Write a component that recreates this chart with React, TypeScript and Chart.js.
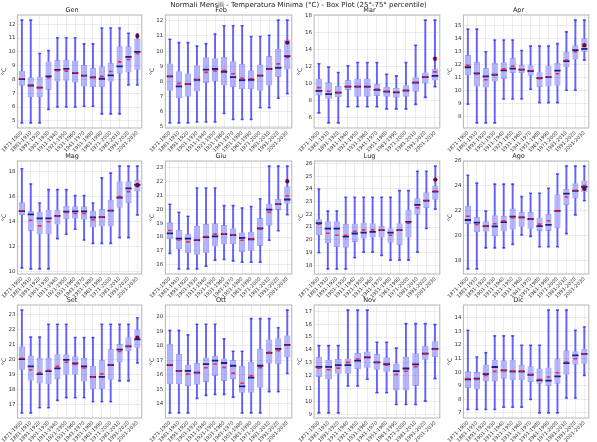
import React, { useEffect, useRef } from "react";
import { Chart, registerables } from "chart.js";

Chart.register(...registerables);

// ---------- categories ----------
const PERIODS = [
  "1871-1900", "1881-1910", "1891-1920", "1901-1930", "1911-1940", "1921-1950", "1931-1960",
  "1941-1970", "1951-1980", "1961-1990", "1971-2000", "1981-2010", "1991-2020", "2001-2030",
];
const PERIODS_13 = PERIODS.filter((p) => p !== "1901-1930");

const SUPTITLE = "Normali Mensili - Temperatura Minima (°C) - Box Plot (25°-75° percentile)";
const Y_TITLE = "°C";

// ---------- data (min, q1, median, q3, max, mean, marker on last period) ----------
const GEN_MIN = [4.85, 4.85, 4.85, 5.83, 6.0, 6.0, 6.0, 6.05, 6.05, 5.5, 5.5, 5.5, 7.6, 7.6];
const GEN_Q1 = [7.55, 6.7, 6.7, 7.24, 7.85, 7.9, 7.78, 7.49, 7.44, 7.44, 7.85, 8.42, 8.51, 8.7];
const GEN_MED = [8.02, 7.56, 7.4, 8.22, 8.7, 8.76, 8.46, 8.27, 8.15, 8.05, 8.3, 8.95, 9.63, 10.0];
const GEN_Q3 = [8.63, 8.15, 8.2, 9.3, 9.4, 9.44, 9.37, 9.05, 8.83, 8.95, 9.2, 10.4, 10.4, 10.95];
const GEN_MAX = [12.3, 12.3, 9.88, 10.1, 11.02, 11.02, 11.02, 10.58, 10.58, 11.73, 11.73, 11.73, 11.35, 11.3];
const GEN_MEAN = [8.05, 7.55, 7.42, 8.12, 8.63, 8.6, 8.48, 8.27, 8.15, 8.22, 8.58, 9.27, 9.44, 9.88];
const GEN_MARK = 11.15;

const FEB_MIN = [5.27, 5.27, 5.27, 5.33, 5.33, 5.33, 5.89, 5.49, 5.49, 5.49, 6.27, 6.27, 6.89, 7.2];
const FEB_Q1 = [7.38, 6.89, 7.0, 7.33, 7.89, 8.0, 7.73, 7.62, 7.49, 7.49, 7.38, 7.73, 8.29, 8.78];
const FEB_MED = [8.33, 7.67, 7.82, 8.11, 8.78, 8.82, 8.64, 8.29, 8.09, 8.11, 8.38, 8.82, 8.89, 9.67];
const FEB_Q3 = [9.18, 8.67, 8.53, 9.07, 9.6, 9.53, 9.62, 9.33, 9.16, 8.73, 9.11, 9.67, 10.16, 10.76];
const FEB_MAX = [10.78, 10.56, 10.56, 10.33, 10.49, 11.13, 11.67, 11.67, 11.67, 10.96, 10.96, 11.04, 12.04, 12.04];
const FEB_MEAN = [8.33, 7.87, 7.82, 8.11, 8.6, 8.69, 8.73, 8.51, 8.22, 8.18, 8.38, 8.8, 9.16, 9.58];
const FEB_MARK = 10.56;

const MAR_MIN = [6.55, 5.37, 5.37, 7.26, 7.26, 7.26, 7.26, 7.02, 7.02, 7.02, 7.54, 8.37, 9.63];
const MAR_Q1 = [8.6, 8.21, 8.37, 9.24, 8.45, 8.45, 8.53, 8.45, 8.33, 8.45, 9.04, 10.03, 10.34];
const MAR_MED = [9.12, 8.76, 8.92, 9.63, 9.63, 9.63, 9.24, 9.04, 8.96, 9.16, 10.1, 10.74, 10.89];
const MAR_Q3 = [10.58, 10.14, 9.71, 10.42, 10.58, 10.58, 9.95, 9.63, 9.51, 9.79, 10.74, 11.29, 11.72];
const MAR_MAX = [12.32, 11.92, 11.29, 12.08, 12.47, 12.47, 12.47, 11.09, 10.89, 12.47, 14.49, 17.45, 17.45];
const MAR_MEAN = [9.51, 9.08, 8.92, 9.63, 9.63, 9.55, 9.35, 9.08, 9.0, 9.2, 10.14, 10.78, 11.37];
const MAR_MARK = 12.91;

const APR_MIN = [8.92, 7.48, 7.48, 7.48, 9.33, 9.33, 9.33, 10.09, 9.05, 9.05, 9.05, 10.01, 10.01, 12.34];
const APR_Q1 = [11.16, 10.3, 10.22, 10.69, 10.87, 11.34, 11.34, 11.14, 10.25, 10.3, 10.35, 11.79, 12.39, 12.99];
const APR_MED = [11.79, 11.32, 11.08, 11.21, 11.55, 11.68, 11.6, 11.5, 10.95, 11.03, 11.53, 12.26, 13.12, 13.22];
const APR_Q3 = [12.73, 12.21, 11.74, 12.13, 12.18, 12.52, 11.97, 11.95, 11.4, 11.92, 12.13, 12.99, 13.49, 14.03];
const APR_MAX = [14.74, 14.74, 12.99, 13.9, 13.9, 13.9, 13.09, 13.43, 13.43, 13.43, 13.62, 14.53, 15.44, 15.44];
const APR_MEAN = [11.95, 11.27, 10.82, 11.21, 11.66, 11.87, 11.6, 11.5, 10.9, 11.03, 11.29, 12.34, 12.99, 13.43];
const APR_MARK = 13.5;

const MAG_MIN = [10.26, 10.18, 10.18, 10.18, 12.61, 12.96, 13.36, 12.5, 12.23, 12.23, 12.23, 12.69, 12.69, 14.5];
const MAG_Q1 = [14.5, 13.23, 12.96, 12.96, 13.74, 14.17, 14.23, 14.12, 13.5, 13.58, 13.58, 15.09, 15.47, 16.41];
const MAG_MED = [14.82, 14.55, 14.23, 14.23, 14.44, 14.77, 14.79, 14.79, 14.31, 14.33, 14.85, 15.9, 16.65, 16.92];
const MAG_Q3 = [15.52, 14.82, 14.77, 14.93, 14.93, 15.25, 15.2, 15.2, 14.85, 14.98, 15.74, 17.22, 17.22, 17.33];
const MAG_MAX = [18.22, 17.0, 15.47, 16.54, 16.54, 16.54, 16.06, 16.06, 15.47, 17.49, 17.87, 18.43, 18.43, 18.43];
const MAG_MEAN = [14.85, 14.09, 13.63, 13.96, 14.44, 14.71, 14.63, 14.63, 14.12, 14.33, 14.87, 15.98, 16.38, 16.79];
const MAG_MARK = 16.92;

const GIU_MIN = [16.82, 15.7, 15.7, 15.7, 15.9, 16.33, 16.38, 16.28, 16.19, 16.19, 16.19, 17.77, 18.45, 19.62];
const GIU_Q1 = [17.84, 17.11, 16.84, 16.72, 16.82, 17.31, 17.48, 17.48, 16.92, 17.0, 17.36, 18.82, 19.96, 20.4];
const GIU_MED = [18.26, 17.89, 17.89, 17.77, 17.99, 18.04, 18.21, 18.13, 17.94, 17.84, 18.62, 19.98, 20.37, 20.71];
const GIU_Q3 = [19.06, 18.52, 18.23, 18.82, 18.94, 18.99, 18.86, 18.64, 18.33, 18.38, 19.37, 20.4, 20.76, 21.66];
const GIU_MAX = [20.37, 19.79, 19.5, 21.54, 21.54, 21.54, 20.27, 20.27, 20.1, 20.2, 20.76, 23.12, 23.12, 23.12];
const GIU_MEAN = [18.47, 17.79, 17.65, 17.79, 18.04, 18.21, 18.21, 18.13, 17.77, 17.84, 18.57, 19.79, 20.37, 20.96];
const GIU_MARK = 22.03;

const LUG_MIN = [18.98, 17.71, 17.71, 17.71, 18.59, 19.03, 19.03, 18.77, 18.4, 18.4, 18.4, 19.03, 20.88, 22.41];
const LUG_Q1 = [20.35, 19.72, 19.43, 19.38, 19.83, 20.09, 20.17, 20.17, 19.77, 19.59, 20.17, 21.99, 22.49, 23.15];
const LUG_MED = [21.3, 20.88, 20.88, 20.25, 20.49, 20.56, 20.62, 20.75, 20.56, 20.75, 21.41, 22.75, 23.07, 23.78];
const LUG_Q3 = [21.62, 21.46, 21.46, 21.25, 21.28, 21.36, 21.3, 21.09, 20.91, 21.3, 22.36, 23.26, 23.73, 24.26];
const LUG_MAX = [23.99, 22.25, 22.25, 23.34, 23.34, 23.34, 23.34, 23.34, 23.34, 23.86, 23.86, 25.39, 25.39, 25.79];
const LUG_MEAN = [21.22, 20.51, 20.35, 20.35, 20.67, 20.78, 20.78, 20.75, 20.35, 20.75, 21.3, 22.52, 23.07, 23.84];
const LUG_MARK = 24.73;

const AGO_MIN = [17.31, 17.31, 19.0, 19.0, 19.0, 19.28, 20.04, 19.93, 19.09, 19.09, 19.09, 20.15, 21.66, 22.8];
const AGO_Q1 = [20.92, 20.26, 20.32, 19.93, 20.32, 20.48, 20.7, 20.54, 20.37, 20.37, 20.59, 22.45, 22.99, 23.49];
const AGO_MED = [21.25, 21.03, 20.75, 20.73, 21.08, 21.52, 21.46, 21.33, 20.75, 20.86, 21.98, 23.38, 23.6, 23.92];
const AGO_Q3 = [22.39, 21.49, 21.14, 21.63, 21.57, 22.17, 21.9, 21.9, 21.46, 21.74, 23.32, 23.76, 24.22, 24.44];
const AGO_MAX = [24.85, 24.22, 21.96, 24.14, 24.14, 24.14, 23.13, 23.4, 23.4, 23.81, 24.96, 25.59, 25.59, 25.59];
const AGO_MEAN = [21.55, 20.89, 20.73, 20.95, 21.19, 21.44, 21.46, 21.33, 20.92, 21.19, 21.98, 23.1, 23.65, 24.03];
const AGO_MARK = 23.76;

const SET_MIN = [16.44, 16.44, 16.78, 16.78, 17.27, 17.45, 17.45, 17.45, 17.18, 17.18, 17.18, 18.57, 18.57, 19.76];
const SET_Q1 = [19.31, 18.6, 18.39, 18.35, 18.69, 18.98, 18.98, 18.53, 18.01, 18.01, 18.64, 19.81, 20.55, 20.78];
const SET_MED = [20.03, 19.54, 19.02, 19.22, 19.4, 19.97, 19.74, 19.54, 18.84, 18.84, 19.63, 20.66, 20.87, 21.34];
const SET_Q3 = [20.89, 20.26, 20.12, 20.12, 20.35, 20.35, 20.21, 20.12, 19.58, 19.97, 20.71, 21.04, 21.49, 22.01];
const SET_MAX = [23.29, 21.49, 21.49, 22.35, 22.35, 22.35, 21.47, 21.47, 21.47, 22.35, 22.35, 22.35, 22.35, 22.78];
const SET_MEAN = [20.08, 19.31, 19.13, 19.27, 19.54, 19.81, 19.67, 19.43, 18.84, 19.04, 19.63, 20.53, 20.89, 21.43];
const SET_MARK = 21.45;

const OTT_MIN = [13.36, 13.36, 13.36, 14.36, 14.57, 14.64, 14.64, 14.45, 13.36, 13.36, 13.36, 14.83, 14.83, 16.08];
const OTT_Q1 = [15.34, 15.34, 15.22, 15.31, 15.5, 15.92, 15.57, 15.69, 14.76, 14.76, 15.1, 16.78, 16.74, 17.2];
const OTT_MED = [16.67, 16.27, 16.27, 16.15, 16.74, 16.97, 16.81, 16.62, 15.2, 15.8, 16.62, 17.51, 17.79, 18.07];
const OTT_Q3 = [18.14, 17.44, 16.69, 16.81, 17.2, 17.32, 17.13, 17.02, 16.62, 16.9, 17.79, 18.44, 18.53, 18.72];
const OTT_MAX = [19.07, 19.07, 18.76, 19.49, 19.49, 19.49, 18.48, 17.62, 17.62, 19.88, 19.88, 19.88, 19.25, 20.47];
const OTT_MEAN = [16.67, 16.27, 16.04, 16.15, 16.48, 16.74, 16.5, 16.11, 15.41, 15.92, 16.48, 17.55, 17.67, 18.02];

const NOV_MIN = [9.14, 9.14, 9.14, 11.22, 11.22, 11.74, 10.7, 10.7, 9.79, 9.79, 9.79, 10.05, 11.79];
const NOV_Q1 = [11.92, 11.74, 12.16, 12.16, 12.52, 12.63, 12.47, 12.31, 10.88, 10.88, 11.22, 13.25, 13.46];
const NOV_MED = [12.7, 12.7, 12.83, 12.83, 13.17, 13.43, 13.04, 12.91, 12.36, 12.57, 12.89, 13.72, 14.08];
const NOV_Q3 = [13.46, 13.25, 13.3, 13.35, 13.77, 13.88, 13.69, 13.43, 12.96, 13.48, 13.74, 14.32, 14.68];
const NOV_MAX = [14.34, 14.34, 14.34, 17.08, 17.08, 17.08, 14.6, 14.6, 14.14, 16.04, 16.04, 16.04, 15.96];
const NOV_MEAN = [12.6, 12.47, 12.6, 13.04, 13.3, 13.48, 13.04, 12.83, 12.1, 12.36, 12.7, 13.72, 14.08];

const DIC_MIN = [7.25, 7.25, 7.25, 7.25, 7.42, 7.42, 7.42, 7.99, 7.0, 7.0, 7.0, 8.09, 8.09, 9.76];
const DIC_Q1 = [8.83, 8.73, 9.32, 9.32, 9.52, 9.4, 9.4, 9.27, 9.15, 8.98, 9.15, 9.81, 10.55, 10.62];
const DIC_MED = [9.47, 9.52, 9.86, 10.38, 10.13, 10.06, 10.06, 9.81, 9.4, 9.37, 9.69, 10.67, 11.24, 11.34];
const DIC_Q3 = [10.06, 10.01, 10.55, 10.92, 10.87, 10.92, 10.55, 10.43, 10.26, 10.35, 11.0, 11.61, 11.54, 11.73];
const DIC_MAX = [13.09, 11.12, 11.44, 12.67, 12.67, 12.67, 11.98, 11.98, 11.98, 14.57, 14.57, 14.57, 13.09, 13.33];
const DIC_MEAN = [9.52, 9.47, 9.76, 10.06, 10.11, 10.06, 10.06, 9.81, 9.47, 9.64, 9.96, 10.75, 10.99, 11.36];

// ---------- panel table built from the arrays ----------
type PanelDef = {
  title: string; labels: string[]; min: number[]; q1: number[]; med: number[];
  q3: number[]; max: number[]; mean: number[]; mark: number | null; step: number;
};
const PANELS: PanelDef[] = [
  { title: "Gen", labels: PERIODS, min: GEN_MIN, q1: GEN_Q1, med: GEN_MED, q3: GEN_Q3, max: GEN_MAX, mean: GEN_MEAN, mark: GEN_MARK, step: 1 },
  { title: "Feb", labels: PERIODS, min: FEB_MIN, q1: FEB_Q1, med: FEB_MED, q3: FEB_Q3, max: FEB_MAX, mean: FEB_MEAN, mark: FEB_MARK, step: 1 },
  { title: "Mar", labels: PERIODS_13, min: MAR_MIN, q1: MAR_Q1, med: MAR_MED, q3: MAR_Q3, max: MAR_MAX, mean: MAR_MEAN, mark: MAR_MARK, step: 2 },
  { title: "Apr", labels: PERIODS, min: APR_MIN, q1: APR_Q1, med: APR_MED, q3: APR_Q3, max: APR_MAX, mean: APR_MEAN, mark: APR_MARK, step: 1 },
  { title: "Mag", labels: PERIODS, min: MAG_MIN, q1: MAG_Q1, med: MAG_MED, q3: MAG_Q3, max: MAG_MAX, mean: MAG_MEAN, mark: MAG_MARK, step: 2 },
  { title: "Giu", labels: PERIODS, min: GIU_MIN, q1: GIU_Q1, med: GIU_MED, q3: GIU_Q3, max: GIU_MAX, mean: GIU_MEAN, mark: GIU_MARK, step: 1 },
  { title: "Lug", labels: PERIODS, min: LUG_MIN, q1: LUG_Q1, med: LUG_MED, q3: LUG_Q3, max: LUG_MAX, mean: LUG_MEAN, mark: LUG_MARK, step: 1 },
  { title: "Ago", labels: PERIODS, min: AGO_MIN, q1: AGO_Q1, med: AGO_MED, q3: AGO_Q3, max: AGO_MAX, mean: AGO_MEAN, mark: AGO_MARK, step: 2 },
  { title: "Set", labels: PERIODS, min: SET_MIN, q1: SET_Q1, med: SET_MED, q3: SET_Q3, max: SET_MAX, mean: SET_MEAN, mark: SET_MARK, step: 1 },
  { title: "Ott", labels: PERIODS, min: OTT_MIN, q1: OTT_Q1, med: OTT_MED, q3: OTT_Q3, max: OTT_MAX, mean: OTT_MEAN, mark: null, step: 1 },
  { title: "Nov", labels: PERIODS_13, min: NOV_MIN, q1: NOV_Q1, med: NOV_MED, q3: NOV_Q3, max: NOV_MAX, mean: NOV_MEAN, mark: null, step: 1 },
  { title: "Dic", labels: PERIODS, min: DIC_MIN, q1: DIC_Q1, med: DIC_MED, q3: DIC_Q3, max: DIC_MAX, mean: DIC_MEAN, mark: null, step: 1 },
];

// ---------- layout & style ----------
const FONT = "DejaVu Sans";
const COL_L = [17, 165, 314, 463];
const COL_W = [127, 129, 128, 128];
const ROW_T = [15, 161, 305];
const PLOT_H = 113;
const Y_W = 17;
const TITLE_H = 12;
const X_H = 24;
const RIGHT_PAD = 3;

const GRID = "rgba(0,0,0,0.07)";
const FRAME = "#b5b5b5";
const TICK_COLOR = "#333";
const BOX_FILL = "rgba(40,40,255,0.34)";
const BOX_EDGE = "rgba(40,40,255,0.42)";
const WHISK = "rgba(40,40,255,0.7)";
const MEDIAN = "#1c1c8e";
const MEAN = "rgba(255,20,20,0.85)";
const MARK = "#6a0a30";

const framePlugin = {
  id: "frame",
  afterDraw(chart: any) {
    const { ctx, chartArea: a } = chart;
    ctx.save();
    ctx.strokeStyle = FRAME;
    ctx.lineWidth = 1;
    ctx.strokeRect(a.left, a.top, a.right - a.left, a.bottom - a.top);
    ctx.restore();
  },
};

function catWidth(ctx: any, n: number) {
  const x = ctx.chart.scales.x;
  return x ? (x.right - x.left) / n : 9;
}

function buildConfig(p: PanelDef): any {
  const n = p.labels.length;
  const markArr = p.labels.map((_, i) => (i === n - 1 && p.mark !== null ? p.mark : null));
  const all = [...p.min, ...p.max, ...(p.mark !== null ? [p.mark] : [])];
  const lo = Math.min(...all);
  const hi = Math.max(...all);
  const pad = (hi - lo) * 0.05;
  const yFont = { family: FONT, size: 5.5 };
  const xFont = { family: FONT, size: 5 };

  return {
    type: "bar",
    data: {
      labels: p.labels,
      datasets: [
        {
          type: "bar", data: p.min.map((v, i) => [v, p.q1[i]]), backgroundColor: WHISK,
          barThickness: 1.3, grouped: false, order: 6, borderWidth: 0,
        },
        {
          type: "bar", data: p.q3.map((v, i) => [v, p.max[i]]), backgroundColor: WHISK,
          barThickness: 1.3, grouped: false, order: 6, borderWidth: 0,
        },
        {
          type: "bar", data: p.q1.map((v, i) => [v, p.q3[i]]), backgroundColor: BOX_FILL,
          borderColor: BOX_EDGE, borderWidth: 1, borderSkipped: false,
          barPercentage: 0.7, categoryPercentage: 1, grouped: false, order: 5,
        },
        {
          type: "line", data: p.min, showLine: false, pointStyle: "line",
          pointRadius: (c: any) => catWidth(c, n) * 0.17, pointBorderWidth: 1.6,
          pointBorderColor: WHISK, order: 4,
        },
        {
          type: "line", data: p.max, showLine: false, pointStyle: "line",
          pointRadius: (c: any) => catWidth(c, n) * 0.17, pointBorderWidth: 1.6,
          pointBorderColor: WHISK, order: 4,
        },
        {
          type: "line", data: p.med, showLine: false, pointStyle: "line",
          pointRadius: (c: any) => catWidth(c, n) * 0.35, pointBorderWidth: 1.8,
          pointBorderColor: MEDIAN, order: 3,
        },
        {
          type: "line", data: p.mean, showLine: false, pointStyle: "line",
          pointRadius: (c: any) => catWidth(c, n) * 0.2, pointBorderWidth: 1.6,
          pointBorderColor: MEAN, order: 2,
        },
        {
          type: "line", data: markArr, showLine: false, pointStyle: "star",
          pointRadius: 2.2, pointBorderWidth: 1.2, pointBorderColor: MARK, order: 1,
        },
      ],
    },
    options: {
      responsive: false,
      animation: false,
      events: [],
      layout: { padding: { left: 0, right: RIGHT_PAD, top: 0, bottom: 0 } },
      plugins: {
        legend: { display: false },
        tooltip: { enabled: false },
        title: {
          display: true, text: p.title, color: "#222",
          font: { family: FONT, size: 6.5, weight: "normal", lineHeight: 1.2 },
          padding: { top: 3, bottom: 1.2 },
        },
      },
      scales: {
        x: {
          type: "category",
          offset: true,
          grid: { color: GRID, drawTicks: false, offset: false },
          border: { display: false },
          ticks: {
            font: xFont, color: TICK_COLOR, minRotation: 45, maxRotation: 45,
            autoSkip: false, padding: 2,
          },
          afterFit: (s: any) => { s.height = X_H; },
        },
        y: {
          min: lo - pad,
          max: hi + pad,
          grid: { color: GRID, drawTicks: false },
          border: { display: false },
          ticks: { stepSize: p.step, includeBounds: false, font: yFont, color: TICK_COLOR, padding: 2 },
          title: { display: true, text: Y_TITLE, color: "#333", font: { family: FONT, size: 6 }, padding: 0 },
          afterFit: (s: any) => { s.width = Y_W; },
        },
      },
    },
    plugins: [framePlugin],
  };
}

function Panel({ p, r, c }: { p: PanelDef; r: number; c: number }) {
  const ref = useRef<HTMLCanvasElement>(null);
  const w = Y_W + COL_W[c] + RIGHT_PAD;
  const h = TITLE_H + PLOT_H + X_H;
  useEffect(() => {
    const chart = new Chart(ref.current as HTMLCanvasElement, buildConfig(p));
    return () => chart.destroy();
  }, [p]);
  return (
    <canvas
      ref={ref}
      width={w}
      height={h}
      style={{ position: "absolute", left: COL_L[c] - Y_W, top: ROW_T[r] - TITLE_H, width: w, height: h }}
    />
  );
}

export default function App() {
  return (
    <div style={{ position: "absolute", left: 0, top: 0, width: 597, height: 442, background: "#fff", overflow: "hidden" }}>
      {PANELS.map((p, i) => (
        <Panel key={p.title} p={p} r={Math.floor(i / 4)} c={i % 4} />
      ))}
      <div
        style={{
          position: "absolute", left: 0, top: 1, width: 597, textAlign: "center",
          fontFamily: FONT, fontSize: 7, lineHeight: "9px", color: "#222",
        }}
      >
        {SUPTITLE}
      </div>
    </div>
  );
}
